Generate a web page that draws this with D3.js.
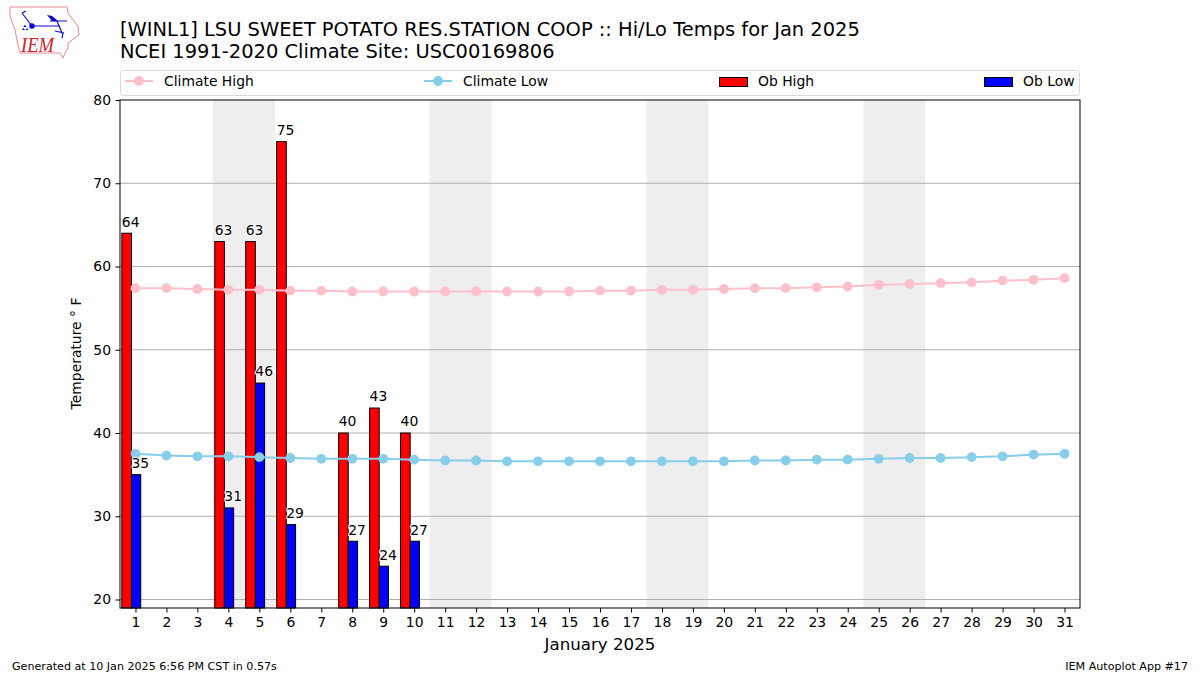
<!DOCTYPE html>
<html>
<head>
<meta charset="utf-8">
<script src="https://cdn.jsdelivr.net/npm/d3@7/dist/d3.min.js"></script>
<style>
html, body { margin: 0; padding: 0; background: #fff; }
svg { display: block; }
text { font-family: "DejaVu Sans", sans-serif; fill: #000; }
</style>
</head>
<body>
<svg id="canvas" width="1200" height="675"></svg>
<script>
let days = d3.range(1, 32)
let climateHigh = [57.4,57.4,57.3,57.2,57.2,57.1,57.1,57.0,57.0,57.0,57.0,57.0,57.0,57.0,57.0,57.1,57.1,57.2,57.2,57.3,57.4,57.4,57.5,57.6,57.8,57.9,58.0,58.1,58.3,58.4,58.6]
let climateLow = [37.5,37.3,37.2,37.2,37.1,37.0,36.9,36.9,36.9,36.8,36.7,36.7,36.6,36.6,36.6,36.6,36.6,36.6,36.6,36.6,36.7,36.7,36.8,36.8,36.9,37.0,37.0,37.1,37.2,37.4,37.5]
let obDays = [1,4,5,6,8,9,10]
let obHigh = [64,63,63,75,40,43,40]
let obLow = [35,31,46,29,27,24,27]
let weekends = [4,11,18,25]
let yTicks = [20,30,40,50,60,70,80]

let svg = d3.select('#canvas')

let plotLeft = 120, plotRight = 1080, plotTop = 100, plotBottom = 608

let x = d3.scaleLinear().domain([0.5, 31.5]).range([plotLeft, plotRight])
let y = d3.scaleLinear().domain([18.98, 80]).range([plotBottom, plotTop])

// weekend bands
svg.selectAll('.band').data(weekends).enter().append('rect')
   .attr('class', 'band')
   .attr('x', d => x(d - 0.5))
   .attr('y', plotTop)
   .attr('width', d => x(d + 1.5) - x(d - 0.5))
   .attr('height', plotBottom - plotTop)
   .attr('fill', '#eeeeee')

// grid, then axes
svg.selectAll('.grid').data(yTicks.slice(0, -1)).enter().append('line')
   .attr('class', 'grid')
   .attr('x1', plotLeft).attr('x2', plotRight)
   .attr('y1', d => y(d)).attr('y2', d => y(d))
   .attr('stroke', '#b0b0b0').attr('stroke-width', 1)

// bars
let barH = svg.append('g'), barL = svg.append('g')
barH.selectAll('rect').data(obDays).enter().append('rect')
   .attr('x', d => x(d - 0.44))
   .attr('y', (d, i) => y(obHigh[i]))
   .attr('width', x(0.31) - x(0))
   .attr('height', (d, i) => plotBottom - y(obHigh[i]))
   .attr('fill', '#ff0000').attr('stroke', '#000').attr('stroke-width', 1)
barL.selectAll('rect').data(obDays).enter().append('rect')
   .attr('x', d => x(d - 0.13))
   .attr('y', (d, i) => y(obLow[i]))
   .attr('width', x(0.3) - x(0))
   .attr('height', (d, i) => plotBottom - y(obLow[i]))
   .attr('fill', '#0000ff').attr('stroke', '#000').attr('stroke-width', 1)

// climate lines
let drawClimate = (values, color) => {
    let line = d3.line().x((d, i) => x(days[i])).y(d => y(d))
    svg.append('path').attr('d', line(values))
       .attr('fill', 'none').attr('stroke', color).attr('stroke-width', 2)
    svg.append('g').selectAll('circle').data(values).enter().append('circle')
       .attr('cx', (d, i) => x(days[i])).attr('cy', d => y(d)).attr('r', 4.9)
       .attr('fill', color)
}
drawClimate(climateHigh, 'pink')
drawClimate(climateLow, 'skyblue')

// value labels with halo
let valueLabels = (values, offset) => {
    svg.append('g').selectAll('text').data(obDays).enter().append('text')
       .attr('x', d => x(d + offset))
       .attr('y', (d, i) => y(values[i]) - 6.7)
       .attr('font-size', 13.9)
       .attr('stroke', '#fff').attr('stroke-width', 2).attr('paint-order', 'stroke')
       .text((d, i) => values[i])
}
valueLabels(obHigh, -0.44)
valueLabels(obLow, -0.13)

// frame
svg.append('rect')
   .attr('x', plotLeft).attr('y', plotTop).attr('width', plotRight - plotLeft).attr('height', plotBottom - plotTop)
   .attr('fill', 'none').attr('stroke', '#000').attr('stroke-width', 1)

let xAxis = d3.axisBottom(x).tickValues(days).tickFormat(d3.format('d')).tickSize(4.5).tickPadding(5)
let yAxis = d3.axisLeft(y).tickValues(yTicks).tickSize(4.5).tickPadding(4.5)
let gx = svg.append('g').attr('transform', `translate(0,${plotBottom})`).call(xAxis)
let gy = svg.append('g').attr('transform', `translate(${plotLeft},0)`).call(yAxis)
;[gx, gy].forEach(g => {
    g.select('.domain').remove()
    g.selectAll('text').attr('font-size', 13.9).attr('font-family', '"DejaVu Sans", sans-serif').attr('fill', '#000')
    g.selectAll('line').attr('stroke', '#000')
})

svg.append('text').attr('x', 600).attr('y', 649.5).attr('text-anchor', 'middle')
   .attr('font-size', 16.67).text('January 2025')
svg.append('text').attr('transform', 'translate(81,353.5) rotate(-90)').attr('text-anchor', 'middle')
   .attr('font-size', 13.9).text('Temperature ° F')

// titles
svg.append('text').attr('x', 120).attr('y', 35.5).attr('font-size', 19.45)
   .text('[WINL1] LSU SWEET POTATO RES.STATION COOP :: Hi/Lo Temps for Jan 2025')
svg.append('text').attr('x', 120).attr('y', 57.5).attr('font-size', 19.45)
   .text('NCEI 1991-2020 Climate Site: USC00169806')

// footer
svg.append('text').attr('x', 12).attr('y', 670).attr('font-size', 11.11)
   .text('Generated at 10 Jan 2025 6:56 PM CST in 0.57s')
svg.append('text').attr('x', 1188).attr('y', 670).attr('text-anchor', 'end').attr('font-size', 11.11)
   .text('IEM Autoplot App #17')

// legend
svg.append('rect').attr('x', 120.5).attr('y', 70.5).attr('width', 959).attr('height', 25).attr('rx', 3)
   .attr('fill', '#fff').attr('stroke', '#d9d9d9').attr('stroke-width', 1)
let legendLines = [['Climate High', 'pink', 125, 164], ['Climate Low', 'skyblue', 424, 463]]
legendLines.forEach(l => {
    svg.append('line').attr('x1', l[2]).attr('x2', l[2] + 28).attr('y1', 81).attr('y2', 81)
       .attr('stroke', l[1]).attr('stroke-width', 2)
    svg.append('circle').attr('cx', l[2] + 14).attr('cy', 81).attr('r', 4.9).attr('fill', l[1])
    svg.append('text').attr('x', l[3]).attr('y', 86).attr('font-size', 13.9).text(l[0])
})
let legendBars = [['Ob High', '#ff0000', 719, 758], ['Ob Low', '#0000ff', 984, 1023]]
legendBars.forEach(l => {
    svg.append('rect').attr('x', l[2] + 0.5).attr('y', 77.5).attr('width', 28).attr('height', 9)
       .attr('fill', l[1]).attr('stroke', '#000').attr('stroke-width', 1)
    svg.append('text').attr('x', l[3]).attr('y', 86).attr('font-size', 13.9).text(l[0])
})

// IEM logo
let logo = svg.append('g')
logo.append('path')
    .attr('d', 'M10 7 L67 7 L68 13 L73 20 L78 26 L79 35 L72 40 L68 43 L68 48 L65 53 L63 58 L60 53 L20 53 L18 45 L15 30 L10 16 Z')
    .attr('fill', 'none').attr('stroke', '#e58a8f').attr('stroke-width', 1)
let logoBlue = logo.append('g').attr('stroke', '#0a0ad0').attr('fill', 'none').attr('stroke-width', 1.2)
logoBlue.append('path').attr('d', 'M32 26 L60 26 M22 13 L32 26 M22 13 L26 11 M50 21 L67 21 M57 21 L62 33 M55 31 L64 33 M63 33 L62 38')
logo.append('circle').attr('cx', 32).attr('cy', 26).attr('r', 2.8).attr('fill', '#0a0ad0')
logo.append('path').attr('d', 'M47 15 L52 16 L58 21 L52 21 Z').attr('fill', '#0a0ad0')
logo.append('path').attr('d', 'M25 24.5 L26.5 27 L23.5 27 Z M23.5 28 L25 30 L22 30 Z M27 28 L28.5 30 L25.5 30 Z').attr('fill', '#0a0ad0')
logo.append('text').attr('x', 21).attr('y', 52).attr('font-size', 22).attr('font-style', 'italic')
    .attr('textLength', 33).attr('lengthAdjust', 'spacingAndGlyphs')
    .style('fill', '#d8202a').style('font-family', '"Liberation Serif", serif').text('IEM')
</script>
</body>
</html>
